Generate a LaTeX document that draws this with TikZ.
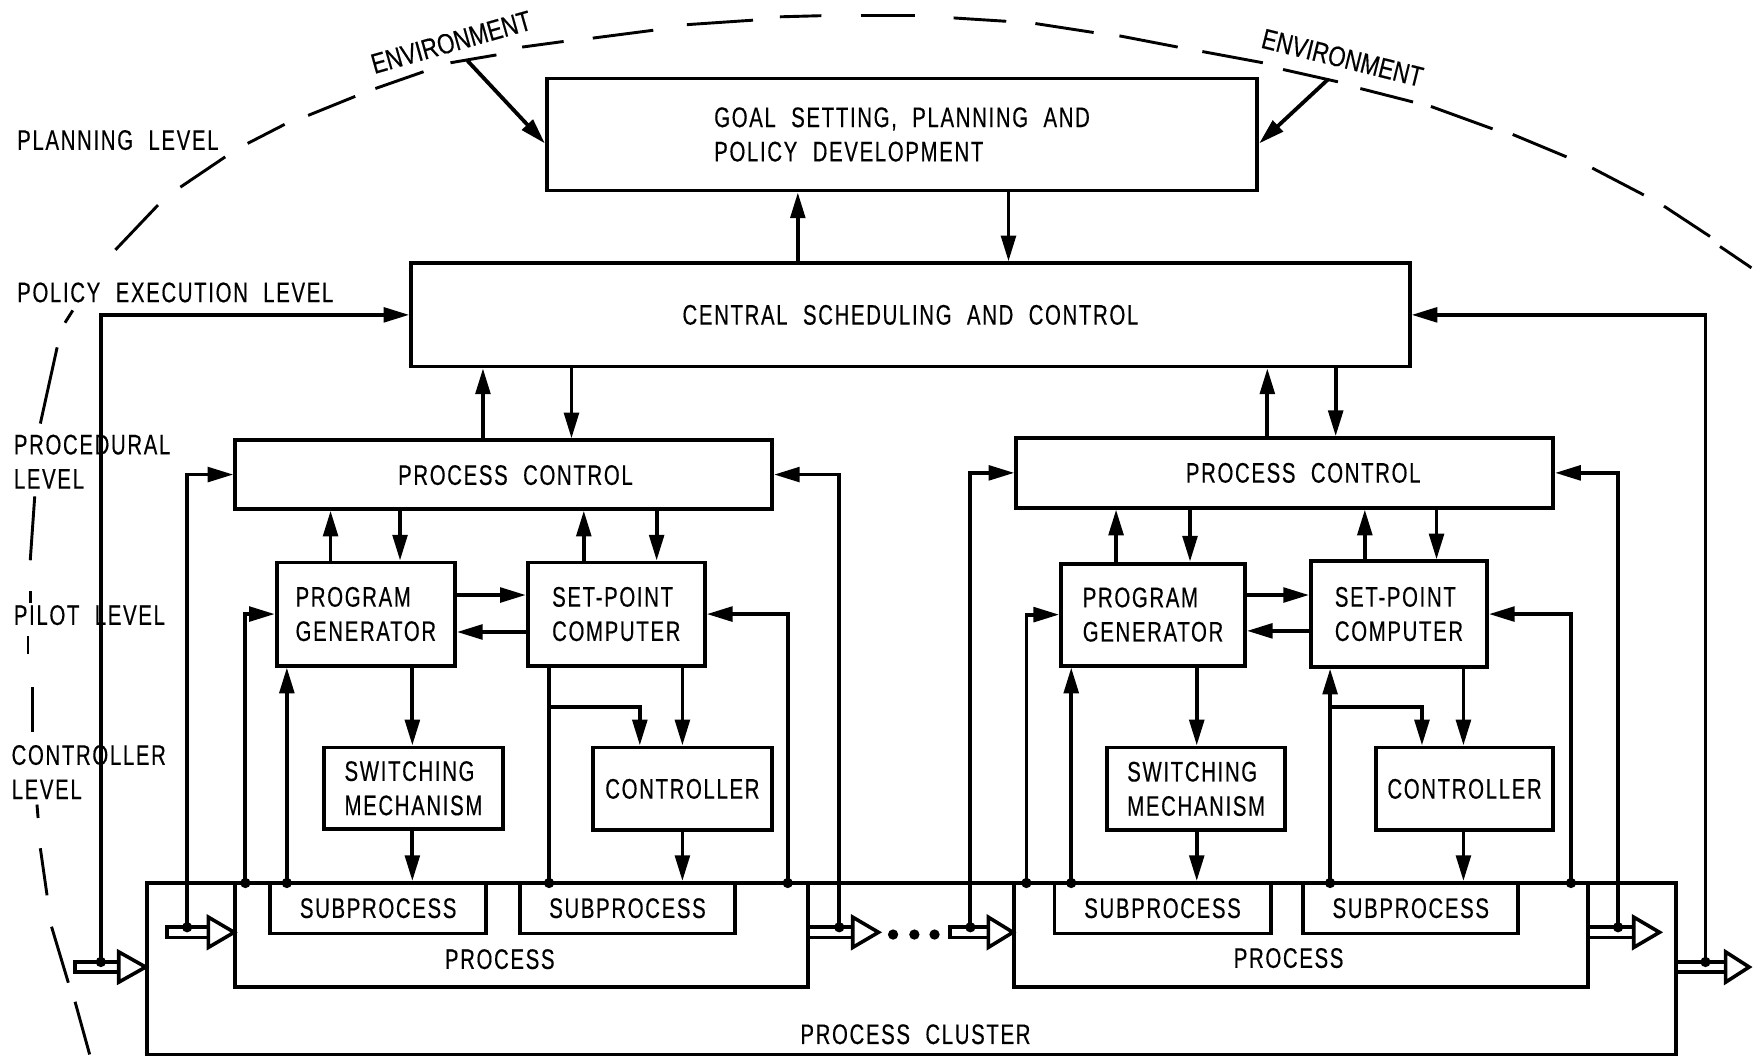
\documentclass[tikz,border=0pt]{standalone}
\usepackage{fontspec}
\setmainfont{Liberation Sans}[FakeStretch=0.72,LetterSpace=6,WordSpace=2.1,FakeBold=0.4]
\newfontfamily\envfont{Liberation Sans}[FakeStretch=0.79,FakeBold=0.4,Kerning=Off]
\usetikzlibrary{arrows.meta}

\tikzset{
  txt/.style={font=\fontsize{12.6pt}{15.3pt}\selectfont},
  box/.style={draw, txt, line width=1.7pt, rectangle, inner sep=0pt, align=left},
  lbl/.style={txt, inner sep=0pt, align=left},
  envlbl/.style={font=\envfont\fontsize{12.6pt}{15.3pt}\selectfont, inner sep=0pt, anchor=base},
  arr/.style={line width=1.7pt, -{Triangle[length=11.5pt,width=6.5pt]}},
  wire/.style={line width=1.7pt},
  hollow/.style={line width=1.6pt, fill=white, line join=miter},
  envdash/.style={line width=1.3pt},
}
% block given by name, x1, y1, x2, y2, text
\newcommand{\blk}[6]{%
  \node[box, minimum width={(#4-#2)*0.5pt}, minimum height={(#5-#3)*0.5pt}]
    (#1) at ({(#2+#4)/2},{(#3+#5)/2}) {#6};}
% open material-flow arrow: shaft start, head base, tip, centre line
\newcommand{\pipe}[4]{%
  \draw[hollow] (#1,#4-4.5) rectangle (#2,#4+4.5);
  \draw[hollow] (#2,#4-13.5) -- (#3,#4) -- (#2,#4+13.5) -- cycle;}

\begin{document}
\begin{tikzpicture}[x=0.5pt,y=-0.5pt]
\fill[white] (0,0) rectangle (1568,943);
\useasboundingbox (0,0) rectangle (1568,943);

% ---- level boundary (dashed) ----
\foreach \a/\b/\c/\d in {
  80/941/67/894, 61/877/46/827, 42/799/36/757, 34/730/33/718,
  29/653/29/613, 25/584/25/568, 27/538/27/527, 27/500/31/443,
  36/378/51/310, 58/288/65/277, 103/223/141/183, 161/167/201/140,
  221/128/254/111, 275/103/317/86, 335/79/378/64, 402/56/443/49,
  466/42/503/37, 529/34/583/27, 613/22/672/18, 696/15/733/14,
  768/14/817/14, 851/16/898/19, 924/21/976/29, 999/32/1051/42,
  1073/46/1127/56, 1145/62/1194/73, 1214/79/1261/91, 1277/95/1332/115,
  1350/120/1398/140, 1421/150/1467/174, 1485/184/1526/211, 1535/220/1563/239}
  \draw[envdash] (\a,\b) -- (\c,\d);

\node[envlbl, rotate=15.8] (envLtxt) at (405,46) {ENVIRONMENT};
\node[envlbl, rotate=-13.9] (envRtxt) at (1196,60) {ENVIRONMENT};
\coordinate (envL) at (417,54);
\coordinate (envR) at (1185,71);

% ---- level labels ----
\node[lbl, anchor=west] (lvPlan) at (15,125) {PLANNING LEVEL};
\node[lbl, anchor=west] (lvPolicy) at (15,261) {POLICY EXECUTION LEVEL};
\node[lbl, anchor=west] (lvProc) at (12,412) {PROCEDURAL\\LEVEL};
\node[lbl, anchor=west] (lvPilot) at (12,549) {PILOT LEVEL};
\node[lbl, anchor=west] (lvCtrl) at (10,689) {CONTROLLER\\LEVEL};

% ---- blocks ----
\blk{goal}{488}{70}{1122}{170}{GOAL SETTING, PLANNING AND\\POLICY DEVELOPMENT}
\blk{csc}{367}{235}{1258}{327}{CENTRAL SCHEDULING AND CONTROL}
\blk{pcL}{210}{393}{689}{454}{}
\blk{pcR}{907}{391}{1386}{453}{}
\node[lbl] (pcLtxt) at (460,424) {PROCESS CONTROL};
\node[lbl] (pcRtxt) at (1163,422) {PROCESS CONTROL};
\blk{pgL}{247}{502}{406}{594}{PROGRAM\\GENERATOR}
\blk{spL}{471}{502}{629}{594}{SET-POINT\\COMPUTER}
\blk{smL}{289}{667}{449}{740}{SWITCHING\\MECHANISM}
\blk{ctL}{529}{667}{689}{741}{CONTROLLER}
\blk{pgR}{947}{503}{1111}{594}{PROGRAM\\GENERATOR}
\blk{spR}{1170}{501}{1327}{595}{SET-POINT\\COMPUTER}
\blk{smR}{988}{667}{1147}{741}{SWITCHING\\MECHANISM}
\blk{ctR}{1228}{667}{1386}{741}{CONTROLLER}
\blk{cluster}{131}{788}{1496}{941}{}
\blk{procL}{210}{788}{721}{881}{}
\blk{procR}{905}{788}{1417}{881}{}
\blk{subL1}{241}{788}{434}{833}{SUBPROCESS}
\blk{subL2}{464}{788}{656}{833}{SUBPROCESS}
\blk{subR1}{941}{788}{1134}{833}{SUBPROCESS}
\blk{subR2}{1163}{788}{1355}{833}{SUBPROCESS}
\node[lbl] (procLtxt) at (446,856) {PROCESS};
\node[lbl] (procRtxt) at (1150,855) {PROCESS};
\node[lbl] (clusterTxt) at (817,923) {PROCESS CLUSTER};

% ---- environment inputs ----
\draw[arr] (envL) -- ([yshift=-4pt]goal.west);
\draw[arr] (envR) -- ([yshift=-4pt]goal.east);

% ---- vertical command / report paths ----
\draw[arr] (712,0 |- csc.north) -- (712,0 |- goal.south);
\draw[arr] (900,0 |- goal.south) -- (900,0 |- csc.north);
\draw[arr] (431,0 |- pcL.north) -- (431,0 |- csc.south);
\draw[arr] (510,0 |- csc.south) -- (510,0 |- pcL.north);
\draw[arr] (1131,0 |- pcR.north) -- (1131,0 |- csc.south);
\draw[arr] (1192,0 |- csc.south) -- (1192,0 |- pcR.north);

\draw[arr] (295,0 |- pgL.north) -- (295,0 |- pcL.south);
\draw[arr] (357,0 |- pcL.south) -- (357,0 |- pgL.north);
\draw[arr] (521,0 |- spL.north) -- (521,0 |- pcL.south);
\draw[arr] (586,0 |- pcL.south) -- (586,0 |- spL.north);
\draw[arr] (996,0 |- pgR.north) -- (996,0 |- pcR.south);
\draw[arr] (1062,0 |- pcR.south) -- (1062,0 |- pgR.north);
\draw[arr] (1218,0 |- spR.north) -- (1218,0 |- pcR.south);
\draw[arr] (1282,0 |- pcR.south) -- (1282,0 |- spR.north);

\draw[arr] (pgL.east |- 0,531) -- (spL.west |- 0,531);
\draw[arr] (spL.west |- 0,564) -- (pgL.east |- 0,564);
\draw[arr] (pgR.east |- 0,531) -- (spR.west |- 0,531);
\draw[arr] (spR.west |- 0,563) -- (pgR.east |- 0,563);

\draw[arr] (368,0 |- pgL.south) -- (368,0 |- smL.north);
\draw[arr] (609,0 |- spL.south) -- (609,0 |- ctL.north);
\draw[arr] (1068,0 |- pgR.south) -- (1068,0 |- smR.north);
\draw[arr] (1306,0 |- spR.south) -- (1306,0 |- ctR.north);

\draw[arr] (368,0 |- smL.south) -- (368,0 |- subL1.north);
\draw[arr] (609,0 |- ctL.south) -- (609,0 |- subL2.north);
\draw[arr] (1068,0 |- smR.south) -- (1068,0 |- subR1.north);
\draw[arr] (1306,0 |- ctR.south) -- (1306,0 |- subR2.north);

% ---- feedback taps ----
\coordinate (inL) at (90,858.5);
\coordinate (inLi) at (167,827.5);
\coordinate (fa) at (219,788);
\coordinate (fb) at (256,788);
\coordinate (fc) at (490,788);
\coordinate (fd) at (703,788);
\coordinate (outL) at (749,827.5);
\coordinate (inRi) at (866,827.5);
\coordinate (fe) at (916,788);
\coordinate (ff) at (956,788);
\coordinate (fg) at (1187,788);
\coordinate (fh) at (1402,788);
\coordinate (outRi) at (1444,827.5);
\coordinate (outR) at (1522,858.5);

\draw[arr] (inL) |- (csc.west);
\draw[arr] (outR) |- (csc.east);
\draw[arr] (inLi) |- (pcL.west);
\draw[arr] (outL) |- (pcL.east);
\draw[arr] (inRi) |- (pcR.west);
\draw[arr] (outRi) |- (pcR.east);
\draw[arr] (fa) |- (pgL.west);
\draw[arr] (fb) -- (fb |- pgL.south);
\draw[wire] (fc) -- (fc |- spL.south);
\draw[arr] (fc |- 0,631) -| (571,0 |- ctL.north);
\draw[arr] (fd) |- (spL.east);
\draw[arr] (fe) |- (pgR.west);
\draw[arr] (ff) -- (ff |- pgR.south);
\draw[arr] (fg) -- (fg |- spR.south);
\draw[arr] (fg |- 0,631) -| (1269,0 |- ctR.north);
\draw[arr] (fh) |- (spR.east);

% ---- material flow ----
\pipe{67}{106}{130}{863}
\pipe{149}{186}{209}{832}
\pipe{721}{761}{784}{832}
\pipe{848}{882}{904}{832}
\pipe{1417}{1458}{1481}{832}
\pipe{1496}{1540}{1561}{863}

\foreach \p in {inL,inLi,fa,fb,fc,fd,outL,inRi,fe,ff,fg,fh,outRi,outR}
  \fill (\p) circle[radius=2.3pt];
\foreach \x in {797,816,834}
  \fill (\x,834) circle[radius=2.3pt];
\end{tikzpicture}
\end{document}
